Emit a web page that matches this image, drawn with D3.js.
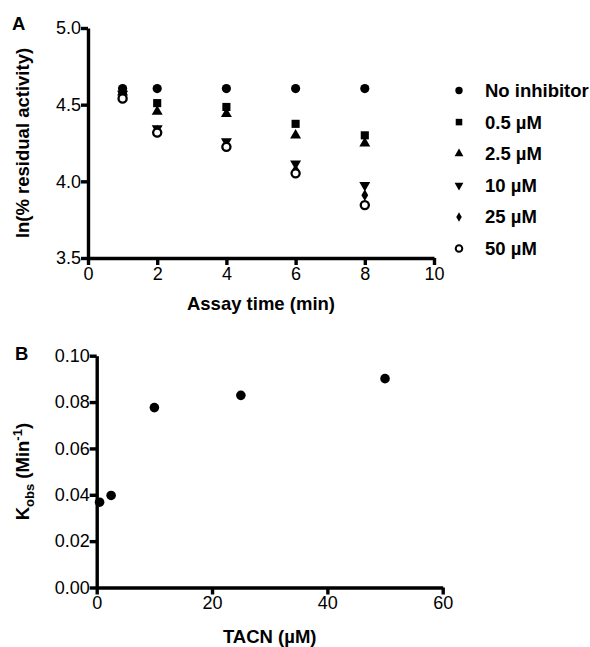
<!DOCTYPE html>
<html>
<head>
<meta charset="utf-8">
<script src="https://cdn.jsdelivr.net/npm/d3@7"></script>
<style>
  body { margin: 0; background: #fff; }
  svg { font-family: Arial, "Liberation Sans", Helvetica, sans-serif; }
  .axis path, .axis line { stroke: #000; stroke-width: 3.4; }
  .axis text { font-size: 18px; fill: #000; }
  .title { font-size: 18.5px; font-weight: bold; }
</style>
</head>
<body>
<svg id="chart" width="590" height="647"></svg>
<script>
// panel A data
const times = [1, 2, 4, 6, 8];
const seriesNames = ["No inhibitor", "0.5 µM", "2.5 µM", "10 µM", "25 µM", "50 µM"];
const noInhibitor = [4.605, 4.605, 4.605, 4.605, 4.605];
const inh05 = [4.59, 4.51, 4.485, 4.375, 4.30];
const inh25 = [4.58, 4.455, 4.44, 4.30, 4.248];
const inh10 = [4.57, 4.345, 4.26, 4.115, 3.975];
const inh25uM = [4.56, 4.33, 4.235, 4.075, 3.91];
const inh50 = [4.54, 4.318, 4.225, 4.052, 3.845];
const seriesA = [noInhibitor, inh05, inh25, inh10, inh25uM, inh50];
const xTicksA = [0, 2, 4, 6, 8, 10];
const yTicksA = [3.5, 4.0, 4.5, 5.0];

// panel B data
const tacn = [0.5, 2.5, 10, 25, 50];
const kobs = [0.0368, 0.0397, 0.0776, 0.0829, 0.0901];
const xTicksB = [0, 20, 40, 60];
const yTicksB = [0, 0.02, 0.04, 0.06, 0.08, 0.10];

const svg = d3.select("#chart");

// marker shapes per series
const shapes = [
  {type: d3.symbolCircle, size: 66, rot: 0, fill: "#000"},
  {type: d3.symbolSquare, size: 66, rot: 0, fill: "#000"},
  {type: d3.symbolTriangle, size: 52, rot: 0, fill: "#000"},
  {type: d3.symbolTriangle, size: 52, rot: 180, fill: "#000"},
  {type: d3.symbolDiamond, size: 40, rot: 0, fill: "#000"},
  {type: d3.symbolCircle, size: 52, rot: 0, fill: "#fff"}
];

// ---------- panel A ----------
const xA = d3.scaleLinear().domain([0, 10]).range([88, 434]);
const yA = d3.scaleLinear().domain([3.5, 5.0]).range([258, 28]);

const gA = svg.append("g");

gA.append("g")
  .attr("class", "axis")
  .attr("transform", "translate(0," + yA(3.5) + ")")
  .call(d3.axisBottom(xA).tickValues(xTicksA).tickSize(7).tickSizeOuter(0).tickPadding(2).tickFormat(d3.format("d")));

gA.append("g")
  .attr("class", "axis")
  .attr("transform", "translate(" + xA(0) + ",0)")
  .call(d3.axisLeft(yA).tickValues(yTicksA).tickSize(7).tickSizeOuter(0).tickPadding(0).tickFormat(d3.format(".1f")));

seriesA.forEach((vals, i) => {
  const s = shapes[i];
  gA.selectAll(".pt" + i)
    .data(vals)
    .join("path")
    .attr("d", d3.symbol().type(s.type).size(s.size))
    .attr("transform", (d, j) => "translate(" + xA(times[j]) + "," + yA(d) + ") rotate(" + s.rot + ")")
    .attr("fill", s.fill)
    .attr("stroke", "#000")
    .attr("stroke-width", s.fill === "#fff" ? 2.3 : 0);
});

gA.append("text").attr("class", "title")
  .attr("x", (xA(0) + xA(10)) / 2).attr("y", 310)
  .attr("text-anchor", "middle").text("Assay time (min)");

gA.append("text").attr("class", "title")
  .attr("transform", "translate(29," + (yA(3.5) + yA(5)) / 2 + ") rotate(-90)")
  .attr("text-anchor", "middle").text("ln(% residual activity)");

gA.append("text").attr("class", "title")
  .attr("x", 12).attr("y", 30).text("A");

// legend
const legend = gA.append("g").attr("transform", "translate(459,90.5)");
seriesNames.forEach((name, i) => {
  const s = shapes[i];
  const row = legend.append("g").attr("transform", "translate(0," + i * 31.6 + ")");
  row.append("path")
    .attr("d", d3.symbol().type(s.type).size(s.size * 0.65))
    .attr("transform", "rotate(" + s.rot + ")")
    .attr("fill", s.fill)
    .attr("stroke", "#000")
    .attr("stroke-width", s.fill === "#fff" ? 2 : 0);
  row.append("text").attr("class", "title")
    .attr("x", 26).attr("y", 6.5).text(name);
});

// ---------- panel B ----------
const xB = d3.scaleLinear().domain([0, 60]).range([96.7, 442.7]);
const yB = d3.scaleLinear().domain([0, 0.10]).range([587.5, 355.7]);

const gB = svg.append("g");

gB.append("g")
  .attr("class", "axis")
  .attr("transform", "translate(0," + yB(0) + ")")
  .call(d3.axisBottom(xB).tickValues(xTicksB).tickSize(7).tickSizeOuter(0).tickPadding(2).tickFormat(d3.format("d")));

gB.append("g")
  .attr("class", "axis")
  .attr("transform", "translate(" + xB(0) + ",0)")
  .call(d3.axisLeft(yB).tickValues(yTicksB).tickSize(7).tickSizeOuter(0).tickPadding(0).tickFormat(d3.format(".2f")));

gB.selectAll(".dot")
  .data(tacn)
  .join("circle")
  .attr("class", "dot")
  .attr("cx", d => xB(d))
  .attr("cy", (d, i) => yB(kobs[i]))
  .attr("r", 4.8)
  .attr("fill", "#000");

gB.append("text").attr("class", "title")
  .attr("x", (xB(0) + xB(60)) / 2).attr("y", 643)
  .attr("text-anchor", "middle").text("TACN (µM)");

const yt = gB.append("text").attr("class", "title")
  .attr("transform", "translate(29," + (yB(0) + yB(0.1)) / 2 + ") rotate(-90)")
  .attr("text-anchor", "middle");
yt.append("tspan").text("K");
yt.append("tspan").attr("font-size", 13).attr("dy", 5).text("obs");
yt.append("tspan").attr("dy", -5).text(" (Min");
yt.append("tspan").attr("font-size", 13).attr("dy", -7).text("-1");
yt.append("tspan").attr("dy", 7).text(")");

gB.append("text").attr("class", "title")
  .attr("x", 15).attr("y", 360).text("B");
</script>
</body>
</html>
